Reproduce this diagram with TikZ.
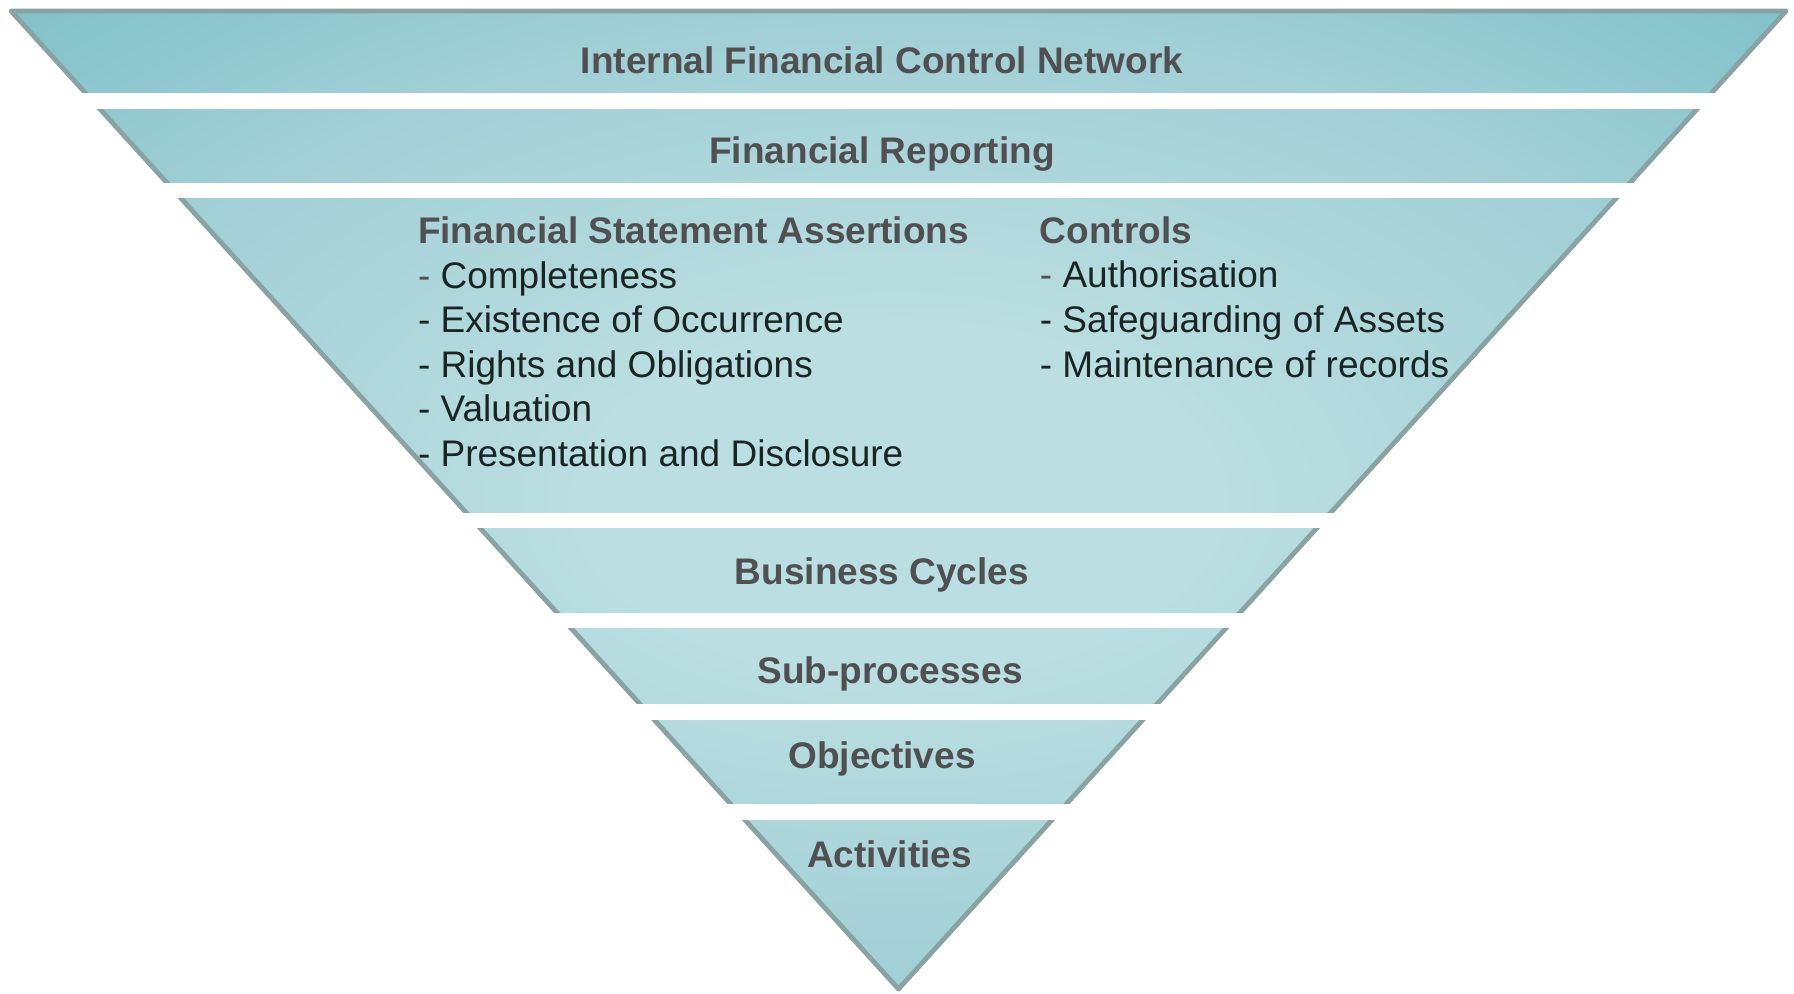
\documentclass[tikz,border=0pt]{standalone}
\usepackage{fontspec}
\setmainfont{Liberation Sans}

\definecolor{bandlight}{HTML}{BADEE1}
\definecolor{bandmid}{HTML}{A2D0D6}
\definecolor{banddark}{HTML}{74BBC4}
\definecolor{bandedge}{HTML}{89A3A4}
\definecolor{headgray}{HTML}{505052}
\definecolor{itemdark}{HTML}{1B2424}

\pgfdeclareradialshading{funnelshade}{\pgfpoint{0bp}{0bp}}{color(0bp)=(bandlight); color(9bp)=(bandlight); color(24bp)=(bandmid); color(40bp)=(banddark); color(50bp)=(banddark)}

\tikzset{
  band label/.style={anchor=base, inner sep=0pt, font=\fontsize{18.5}{22.3}\selectfont\bfseries, text=headgray},
  list label/.style={anchor=base west, inner sep=0pt, align=left, font=\fontsize{18.5}{22.3}\selectfont, text=itemdark},
  gap/.style={fill=white}
}

\newcommand{\listhead}[1]{{\bfseries\color{headgray}#1}}
\newcommand{\firstdash}{{\color{headgray}-}}

\begin{document}
\begin{tikzpicture}[x=0.5pt,y=0.5pt,yscale=-1,xscale=1]
\useasboundingbox (0,0) rectangle (1794,993);

\coordinate (tl) at (11,11);
\coordinate (tr) at (1786,11);
\coordinate (ap) at (898.5,989);

%Shape: Triangle
\shade [shading=funnelshade] (tl) -- (tr) -- (ap) -- cycle ;
\draw [bandedge, line width=2.4pt, line join=round] (tl) -- (tr) -- (ap) -- cycle ;

%Shape: Rectangle (gap)
\fill [gap] (0,92.7) rectangle (1794,108.7) ;
%Shape: Rectangle (gap)
\fill [gap] (0,182.7) rectangle (1794,198.4) ;
%Shape: Rectangle (gap)
\fill [gap] (0,512.7) rectangle (1794,528.4) ;
%Shape: Rectangle (gap)
\fill [gap] (0,612.6) rectangle (1794,628.4) ;
%Shape: Rectangle (gap)
\fill [gap] (0,704.3) rectangle (1794,720.1) ;
%Shape: Rectangle (gap)
\fill [gap] (0,804.3) rectangle (1794,820.1) ;

% Text Node
\draw (882,73) node (network) [band label] {Internal Financial Control Network};
% Text Node
\draw (882,163.6) node (reporting) [band label] {Financial Reporting};
% Text Node (base = last line)
\draw (417.6,466.5) node (assertions) [list label] {\listhead{Financial Statement Assertions}\\\firstdash{} Completeness\\- Existence of Occurrence\\- Rights and Obligations\\- Valuation\\- Presentation and Disclosure};
% Text Node (base = last line)
\draw (1039.5,377) node (controls) [list label] {\listhead{Controls}\\\firstdash{} Authorisation\\- Safeguarding of Assets\\- Maintenance of records};
% Text Node
\draw (882,584.5) node (cycles) [band label] {Business Cycles};
% Text Node
\draw (890,683.5) node (subproc) [band label] {Sub-processes};
% Text Node
\draw (882,768.5) node (objectives) [band label] {Objectives};
% Text Node
\draw (889.5,867.5) node (activities) [band label] {Activities};

\end{tikzpicture}
\end{document}
